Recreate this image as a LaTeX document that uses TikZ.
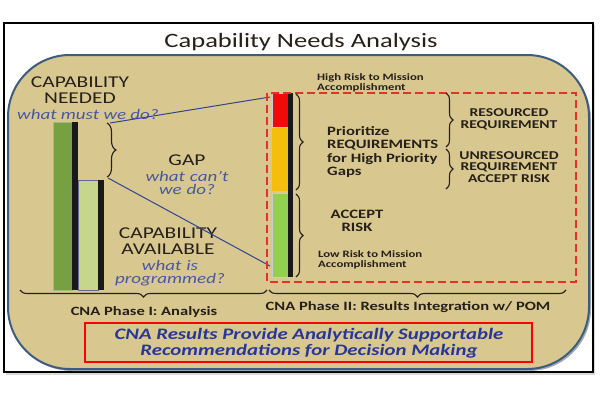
\documentclass[tikz,border=0pt]{standalone}
\usepackage{fontspec}
\setmainfont{Carlito}[FakeStretch=1.3]
\usetikzlibrary{decorations.pathreplacing}
\definecolor{tan}{RGB}{216,200,143}
\definecolor{rimblue}{RGB}{62,92,128}
\definecolor{txtblue}{RGB}{72,88,160}
\definecolor{boxblue}{RGB}{40,55,150}
\definecolor{linkblue}{RGB}{50,66,150}
\definecolor{darkgreen}{RGB}{118,160,66}
\definecolor{lightgreen}{RGB}{198,214,140}
\definecolor{barred}{RGB}{240,10,10}
\definecolor{baryellow}{RGB}{245,190,10}
\definecolor{bargreen}{RGB}{146,208,80}
\definecolor{dashred}{RGB}{228,50,40}
\definecolor{ink}{RGB}{38,32,24}
\tikzset{
  bigcap/.style={font=\fontsize{16.5}{17}\selectfont, text=ink, align=center, inner sep=0pt},
  ask/.style={font=\fontsize{14.6}{14.6}\selectfont\itshape, text=txtblue, align=center, inner sep=0pt},
  boldtxt/.style={font=\fontsize{12.8}{13.3}\selectfont\bfseries, text=ink, inner sep=0pt},
  smallbold/.style={font=\fontsize{12}{11.8}\selectfont\bfseries, text=ink, align=center, inner sep=0pt},
  tinybold/.style={font=\fontsize{9.8}{10}\selectfont\bfseries, text=ink, align=left, inner sep=0pt},
  phase/.style={font=\fontsize{12.7}{13}\selectfont\bfseries, text=ink, inner sep=0pt},
  bracestyle/.style={decorate, decoration={brace, amplitude=7pt}, line width=1.1pt, draw=ink},
  link/.style={draw=linkblue, line width=1pt},
}
\begin{document}
\begin{tikzpicture}[x=1pt,y=-1pt]
\useasboundingbox (0,0) rectangle (600,400);
% frame
\fill[black!15] (6,25) rectangle (595,375);
\draw[fill=white, line width=1.2pt] (4,23) rectangle (593,372);
% tan rounded panel with shadow
\fill[rimblue!50!black!40, rounded corners=62pt] (10,57) rectangle (591,371);
\draw[fill=tan, draw=rimblue, line width=2pt, rounded corners=62pt] (8,55) rectangle (589,369);
% title
\node[font=\fontsize{20.4}{21}\selectfont, text=ink, inner sep=0pt] (title) at (301,42) {Capability Needs Analysis};

% left bars
\draw[fill=darkgreen, draw=darkgreen!70!white, line width=0.8pt] (53,122) rectangle (72,290);
\fill[black!90] (72,122) rectangle (78,290);
\draw[fill=lightgreen, draw=gray!80!blue, line width=0.8pt] (78,180) rectangle (98,290);
\fill[black!90] (98,180) rectangle (104,290);

% left texts
\node[bigcap] (capneed) at (80,90) {CAPABILITY\\[-1pt]NEEDED};
\node[ask] (whatmust) at (88,114) {what must we do?};
\node[bigcap] (gap) at (187,160) {GAP};
\node[ask, text width=100pt] (whatcant) at (187,183) {what can’t\\[-1pt]we do?};
\node[bigcap] (capavail) at (168,241) {CAPABILITY\\[-1pt]AVAILABLE};
\node[ask, text width=120pt] (whatis) at (170,273) {what is\\[-1pt]programmed?};

% gap brace
\coordinate (gtop) at (107,123);
\coordinate (gbot) at (107,177);
\draw[bracestyle, decoration={amplitude=9pt}] (gtop) -- (gbot);

% risk bar
\draw[fill=barred, draw=gray!40, line width=0.8pt] (272,93) rectangle (288,127);
\draw[fill=baryellow, draw=baryellow, line width=0.8pt] (272,128) rectangle (288,190);
\draw[fill=bargreen, draw=gray!40, line width=0.8pt] (272,193) rectangle (288,277);
\fill[black!90] (288,93) rectangle (293,277);
\coordinate (redtl) at (270,97);
\coordinate (greenbl) at (270,266);

% links
\draw[link] (110,123) -- (redtl);
\draw[link] (108,178) -- (greenbl);

% red dashed box
\draw[dashred, line width=2.6pt, dash pattern=on 8pt off 4pt] (267,93) rectangle (576,282);

% right braces
\draw[bracestyle] (296,94) -- (296,190);
\draw[bracestyle] (296,194) -- (296,277);
\draw[bracestyle] (446,93) -- (446,147);
\draw[bracestyle] (446,149) -- (446,189);

% right texts
\node[tinybold, anchor=west] (highrisk) at (317,83) {High Risk to Mission\\Accomplishment};
\node[boldtxt, anchor=west, align=left] (prio) at (327,152) {Prioritize\\REQUIREMENTS\\for High Priority\\Gaps};
\node[smallbold] (resreq) at (509,119) {RESOURCED\\REQUIREMENT};
\node[smallbold] (unres) at (509,167) {UNRESOURCED\\REQUIREMENT\\ACCEPT RISK};
\node[boldtxt, align=center] (accept) at (357,221) {ACCEPT\\RISK};
\node[tinybold, anchor=west] (lowrisk) at (318,260) {Low Risk to Mission\\Accomplishment};

% bottom braces
\draw[bracestyle] (267,290) -- (20,290);
\draw[bracestyle] (566,290) -- (269,290);
\node[phase] (ph1) at (144,312) {CNA Phase I: Analysis};
\node[phase] (ph2) at (408,307) {CNA Phase II: Results Integration w/ POM};

% conclusion box
\draw[draw=red, line width=2.6pt] (85,323) rectangle (532,362);
\node[font=\fontsize{16}{16.5}\selectfont\bfseries\itshape, text=boxblue, align=center, inner sep=0pt] (concl) at (309,343) {CNA Results Provide Analytically Supportable\\Recommendations for Decision Making};
\end{tikzpicture}
\end{document}
